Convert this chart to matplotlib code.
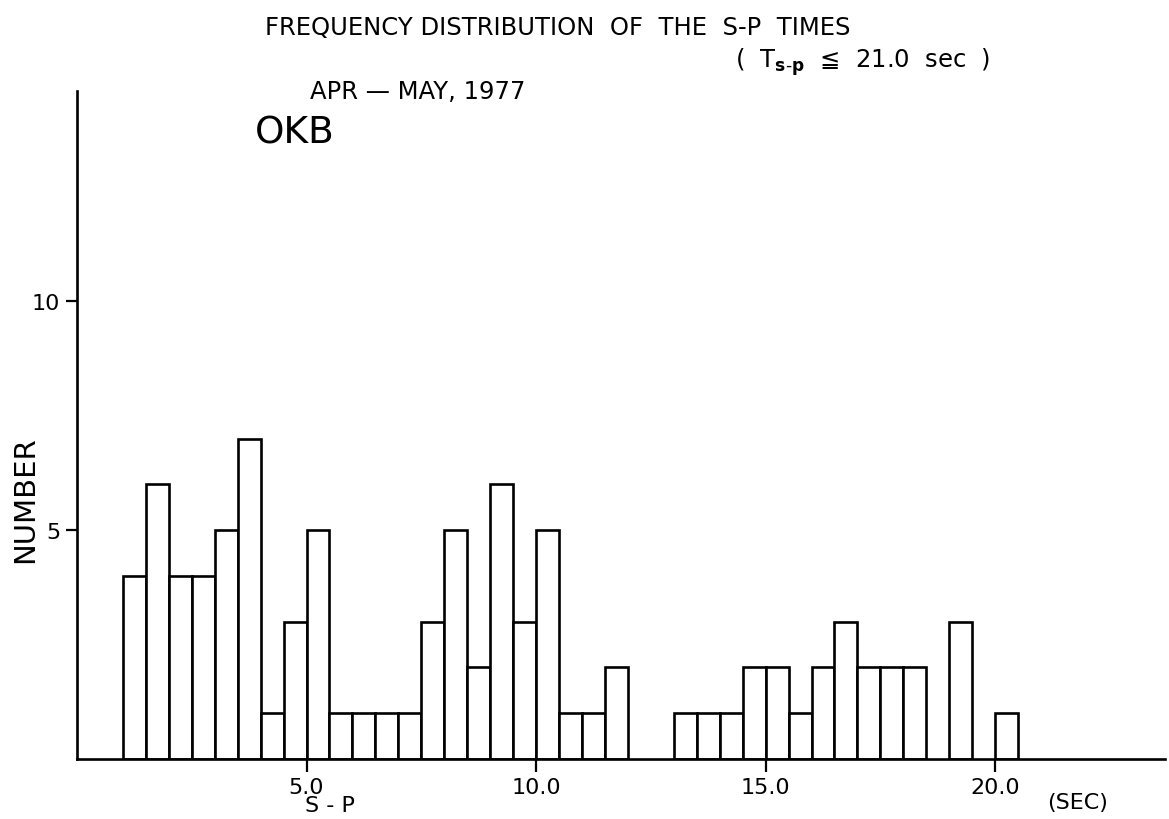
import matplotlib
matplotlib.use("Agg")
import matplotlib.pyplot as plt

# S-P time bins (left edge, sec) and number of events, OKB Apr-May 1977
bin_left = [1.0, 1.5, 2.0, 2.5, 3.0, 3.5, 4.0, 4.5, 5.0, 5.5,
            6.0, 6.5, 7.0, 7.5, 8.0, 8.5, 9.0, 9.5, 10.0, 10.5,
            11.0, 11.5, 12.0, 12.5, 13.0, 13.5, 14.0, 14.5, 15.0, 15.5,
            16.0, 16.5, 17.0, 17.5, 18.0, 18.5, 19.0, 19.5, 20.0]
counts = [4, 6, 4, 4, 5, 7, 1, 3, 5, 1,
          1, 1, 1, 3, 5, 2, 6, 3, 5, 1,
          1, 2, 0, 0, 1, 1, 1, 2, 2, 1,
          2, 3, 2, 2, 2, 0, 3, 0, 1]
bin_width = 0.5

x_ticks = [5.0, 10.0, 15.0, 20.0]
x_ticklabels = ["5.0", "10.0", "15.0", "20.0"]
y_ticks = [5, 10]
y_ticklabels = ["5", "10"]

plt.rcParams['font.family'] = ['DejaVu Sans']
plt.rcParams['mathtext.fontset'] = 'dejavusans'

W, H = 1169, 820
fig = plt.figure(figsize=(W / 100, H / 100), dpi=100)
ax = fig.add_axes([77 / W, 1 - 760 / H, (1165 - 77) / W, (760 - 92) / H])


def px(x, y):
    return x / W, 1 - y / H


# only draw bars with a count, empty bins leave a gap
bars_x = [b for b, c in zip(bin_left, counts) if c > 0]
bars_h = [c for c in counts if c > 0]
ax.bar(bars_x, bars_h, width=bin_width, align='edge', facecolor='white',
       edgecolor='black', linewidth=1.9, zorder=2)

ax.set_xlim(0, 23.7)
ax.set_ylim(0, 14.6)
ax.spines['top'].set_visible(False)
ax.spines['right'].set_visible(False)
ax.spines['left'].set_linewidth(1.9)
ax.spines['bottom'].set_linewidth(1.9)

ax.set_xticks(x_ticks)
ax.set_xticklabels(x_ticklabels)
ax.set_yticks(y_ticks)
ax.set_yticklabels(y_ticklabels)
ax.tick_params(axis='x', direction='out', length=9, width=1.6,
               labelsize=16, pad=4)
ax.tick_params(axis='y', direction='out', length=8, width=1.6,
               labelsize=16, pad=4)

fig.text(*px(265, 28), "FREQUENCY DISTRIBUTION  OF  THE  S-P  TIMES",
         ha='left', va='center', fontsize=17.5)
fig.text(*px(735, 62), r"(  T$_{\mathbf{s\text{-}p}}$  ≦  21.0  sec  )",
         ha='left', va='center', fontsize=17.5)
fig.text(*px(310, 92), "APR — MAY, 1977", ha='left', va='center',
         fontsize=17.5)
fig.text(*px(255, 133), "OKB", ha='left', va='center', fontsize=27)
fig.text(*px(25, 500), "NUMBER", ha='center', va='center', rotation=90,
         fontsize=21)
fig.text(*px(330, 806), "S - P", ha='center', va='center', fontsize=16)
fig.text(*px(1078, 803), "(SEC)", ha='center', va='center', fontsize=16)

fig.savefig("out.png", dpi=100)
